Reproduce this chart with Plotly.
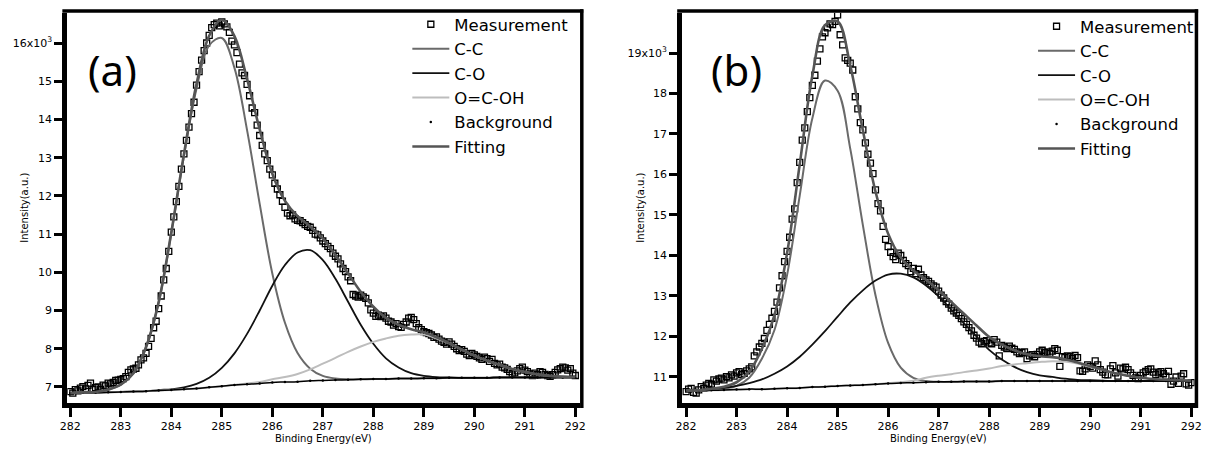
import numpy as np
import plotly.graph_objects as go

# ---------------------------------------------------------------------------
# Binding-energy sampling grids (eV)
# ---------------------------------------------------------------------------
energy_fit = np.linspace(282.0, 292.0, 41)     # component / envelope curves
energy_meas = np.linspace(282.0, 292.0, 201)   # measured spectrum (0.05 eV step)

# ---------------------------------------------------------------------------
# Panel (a) – intensities in units of 10^3 counts
# ---------------------------------------------------------------------------
bg_a = [6.84, 6.85, 6.85, 6.86, 6.87, 6.88, 6.89, 6.91, 6.92, 6.94, 6.96,
        6.99, 7.02, 7.05, 7.07, 7.09, 7.12, 7.13, 7.14, 7.16, 7.17, 7.18,
        7.19, 7.20, 7.21, 7.21, 7.22, 7.22, 7.23, 7.23, 7.24, 7.24, 7.24,
        7.24, 7.25, 7.25, 7.25, 7.25, 7.25, 7.25, 7.25]
cc_a = [6.84, 6.86, 6.87, 6.93, 7.06, 7.36, 8.04, 9.21, 11.02, 13.04, 14.81,
        15.94, 16.13, 15.35, 13.72, 11.79, 9.97, 8.68, 7.89, 7.48, 7.29, 7.22,
        7.20, 7.20, 7.21, 7.21, 7.22, 7.22, 7.23, 7.23, 7.24, 7.24, 7.24,
        7.24, 7.25, 7.25, 7.25, 7.25, 7.25, 7.25, 7.25]
co_a = [6.84, 6.85, 6.85, 6.86, 6.87, 6.88, 6.89, 6.92, 6.94, 6.99, 7.08,
        7.24, 7.50, 7.88, 8.39, 9.00, 9.65, 10.19, 10.52, 10.58, 10.32, 9.83,
        9.23, 8.63, 8.13, 7.75, 7.51, 7.36, 7.29, 7.26, 7.25, 7.24, 7.24,
        7.24, 7.25, 7.25, 7.25, 7.25, 7.25, 7.25, 7.25]
ocoh_a = [6.84, 6.85, 6.85, 6.86, 6.87, 6.88, 6.89, 6.91, 6.92, 6.94, 6.96,
          6.99, 7.02, 7.05, 7.09, 7.13, 7.20, 7.26, 7.34, 7.46, 7.61, 7.76,
          7.92, 8.06, 8.18, 8.27, 8.34, 8.37, 8.37, 8.27, 8.14, 7.98, 7.82,
          7.69, 7.58, 7.47, 7.39, 7.33, 7.29, 7.27, 7.26]
fit_a = [6.84, 6.86, 6.87, 6.93, 7.06, 7.36, 8.04, 9.22, 11.04, 13.09, 14.93,
         16.19, 16.61, 16.18, 15.06, 13.74, 12.58, 11.87, 11.47, 11.20, 10.88,
         10.45, 9.97, 9.49, 9.10, 8.81, 8.63, 8.51, 8.43, 8.30, 8.15, 7.98,
         7.82, 7.69, 7.58, 7.47, 7.39, 7.33, 7.29, 7.27, 7.26]
meas_a = [
    6.88, 6.84, 6.93, 6.90, 6.97, 7.01, 6.95, 7.04, 7.10, 6.93,
    6.98, 7.00, 6.94, 7.05, 7.03, 7.10, 7.08, 7.12, 7.17, 7.18,
    7.20, 7.22, 7.27, 7.38, 7.45, 7.47, 7.49, 7.58, 7.71, 7.76,
    7.88, 8.06, 8.27, 8.55, 8.72, 9.05, 9.38, 9.80, 10.10, 10.55,
    11.05, 11.45, 11.85, 12.25, 12.70, 13.10, 13.45, 13.80, 14.15, 14.45,
    14.90, 15.25, 15.55, 15.80, 16.00, 16.20, 16.40, 16.48, 16.52, 16.45,
    16.55, 16.50, 16.42, 16.28, 16.05, 15.95, 15.75, 15.45, 15.22, 15.15,
    14.92, 14.62, 14.30, 14.18, 13.85, 13.58, 13.32, 13.10, 12.92, 12.70,
    12.55, 12.33, 12.18, 12.03, 11.86, 11.70, 11.55, 11.48, 11.50, 11.40,
    11.36, 11.35, 11.30, 11.25, 11.20, 11.18, 11.10, 11.00, 10.98, 10.90,
    10.82, 10.75, 10.68, 10.62, 10.50, 10.42, 10.35, 10.22, 10.10, 10.02,
    9.88, 9.78, 9.42, 9.38, 9.35, 9.40, 9.36, 9.32, 9.20, 9.02,
    8.93, 8.85, 8.88, 8.84, 8.86, 8.80, 8.72, 8.70, 8.62, 8.66,
    8.58, 8.56, 8.64, 8.70, 8.80, 8.82, 8.76, 8.66, 8.55, 8.50,
    8.45, 8.42, 8.40, 8.36, 8.30, 8.31, 8.25, 8.20, 8.17, 8.12,
    8.18, 8.12, 8.06, 8.00, 7.95, 7.98, 7.93, 7.86, 7.82, 7.88,
    7.84, 7.80, 7.76, 7.72, 7.78, 7.74, 7.67, 7.72, 7.62, 7.58,
    7.60, 7.52, 7.50, 7.46, 7.40, 7.35, 7.37, 7.42, 7.48, 7.52,
    7.44, 7.40, 7.34, 7.30, 7.36, 7.32, 7.40, 7.38, 7.33, 7.30,
    7.28, 7.32, 7.38, 7.45, 7.48, 7.52, 7.50, 7.44, 7.48, 7.36,
    7.30]

# ---------------------------------------------------------------------------
# Panel (b) – intensities in units of 10^3 counts
# ---------------------------------------------------------------------------
bg_b = [10.66, 10.66, 10.67, 10.68, 10.69, 10.70, 10.70, 10.71, 10.72, 10.73,
        10.75, 10.76, 10.78, 10.79, 10.80, 10.82, 10.84, 10.85, 10.86, 10.87,
        10.88, 10.88, 10.89, 10.89, 10.89, 10.90, 10.90, 10.90, 10.90, 10.90,
        10.90, 10.90, 10.90, 10.90, 10.90, 10.90, 10.90, 10.90, 10.90, 10.90,
        10.90]
cc_b = [10.66, 10.66, 10.68, 10.71, 10.78, 10.98, 11.45, 12.16, 13.52, 15.48,
        17.39, 18.32, 18.07, 16.64, 14.75, 13.02, 11.84, 11.23, 10.98, 10.90,
        10.88, 10.88, 10.89, 10.89, 10.89, 10.90, 10.90, 10.90, 10.90, 10.90,
        10.90, 10.90, 10.90, 10.90, 10.90, 10.90, 10.90, 10.90, 10.90, 10.90,
        10.90]
co_b = [10.67, 10.67, 10.70, 10.73, 10.78, 10.85, 10.94, 11.08, 11.26, 11.50,
        11.80, 12.13, 12.49, 12.84, 13.14, 13.38, 13.53, 13.55, 13.46, 13.26,
        12.99, 12.66, 12.33, 12.00, 11.67, 11.43, 11.25, 11.12, 11.04, 11.00,
        10.96, 10.93, 10.92, 10.91, 10.90, 10.90, 10.90, 10.90, 10.90, 10.90,
        10.90]
ocoh_b = [10.66, 10.66, 10.67, 10.68, 10.69, 10.70, 10.70, 10.71, 10.72, 10.73,
          10.75, 10.76, 10.78, 10.79, 10.80, 10.82, 10.85, 10.87, 10.91, 10.98,
          11.03, 11.07, 11.12, 11.16, 11.21, 11.27, 11.31, 11.34, 11.37, 11.39,
          11.38, 11.33, 11.25, 11.17, 11.09, 11.03, 10.98, 10.95, 10.93, 10.92,
          10.91]
fit_b = [10.67, 10.67, 10.71, 10.76, 10.87, 11.13, 11.69, 12.53, 14.06, 16.25,
         18.44, 19.69, 19.78, 18.69, 17.09, 15.58, 14.54, 13.95, 13.63, 13.40,
         13.14, 12.85, 12.56, 12.27, 11.99, 11.80, 11.66, 11.56, 11.51, 11.49,
         11.44, 11.36, 11.27, 11.18, 11.09, 11.03, 10.98, 10.95, 10.93, 10.92,
         10.91]
meas_b = [
    10.64, 10.70, 10.72, 10.62, 10.60, 10.68, 10.76, 10.72, 10.80, 10.84,
    10.82, 10.93, 10.90, 10.95, 10.97, 10.93, 11.01, 10.98, 11.05, 11.02,
    11.10, 11.13, 11.06, 11.09, 11.15, 11.20, 11.25, 11.52, 11.62, 11.74,
    11.83, 11.95, 12.15, 12.30, 12.45, 12.62, 12.85, 13.20, 13.50, 13.85,
    14.10, 14.45, 14.90, 15.15, 15.80, 16.30, 16.85, 17.15, 17.55, 17.90,
    18.20, 18.45, 18.80, 19.10, 19.40, 19.50, 19.62, 19.72, 19.70, 19.78,
    19.94, 19.45, 19.20, 18.88, 18.82, 18.75, 18.58, 17.92, 17.62, 17.28,
    17.10, 16.78, 16.50, 16.28, 16.02, 15.62, 15.28, 15.10, 14.72, 14.40,
    14.22, 14.08, 13.97, 13.90, 14.06, 14.00, 13.88, 13.80, 13.75, 13.60,
    13.68, 13.55, 13.66, 13.52, 13.45, 13.40, 13.36, 13.30, 13.25, 13.22,
    13.12, 13.02, 12.95, 12.86, 12.80, 12.70, 12.63, 12.58, 12.52, 12.44,
    12.36, 12.30, 12.22, 12.14, 12.03, 11.96, 11.86, 11.82, 11.88, 11.90,
    11.84, 11.82, 11.92, 11.86, 11.52, 11.78, 11.74, 11.70, 11.76, 11.71,
    11.68, 11.62, 11.58, 11.60, 11.62, 11.45, 11.52, 11.55, 11.50, 11.56,
    11.62, 11.66, 11.60, 11.62, 11.58, 11.64, 11.70, 11.66, 11.26, 11.50,
    11.48, 11.52, 11.50, 11.46, 11.53, 11.48, 11.15, 11.14, 11.20, 11.30,
    11.26, 11.22, 11.40, 11.30, 11.18, 11.12, 11.06, 11.05, 11.20, 11.28,
    11.10, 11.02, 11.22, 11.20, 11.24, 11.18, 11.10, 11.04, 10.98, 10.96,
    11.04, 11.10, 11.14, 11.18, 11.20, 11.12, 11.06, 11.10, 11.13, 11.08,
    11.02, 11.14, 10.82, 10.90, 11.00, 10.84, 11.02, 11.08, 10.83, 10.80,
    10.86]

x_ticks = [282, 283, 284, 285, 286, 287, 288, 289, 290, 291, 292]
y_ticks_a = [7, 8, 9, 10, 11, 12, 13, 14, 15, 16]
y_ticks_b = [11, 12, 13, 14, 15, 16, 17, 18, 19]
panel_labels = ["(a)", "(b)"]

for arr in (bg_a, cc_a, co_a, ocoh_a, fit_a, bg_b, cc_b, co_b, ocoh_b, fit_b):
    assert len(arr) == len(energy_fit)
assert len(meas_a) == len(energy_meas) and len(meas_b) == len(energy_meas)

# ---------------------------------------------------------------------------
# Styling
# ---------------------------------------------------------------------------
W, H = 1216, 451
FONT = "DejaVu Sans"
C_CC = "#6a6a6a"
C_CO = "#111111"
C_OCOH = "#bdbdbd"
C_FIT = "#555555"


def px_x(p):
    return p / W


def px_y(p):
    return (H - p) / H


fig = go.Figure()


def add_panel(xref, yref, legend, meas, bg, cc, co, ocoh, fit):
    common = dict(xaxis=xref, yaxis=yref, legend=legend)
    fig.add_trace(go.Scatter(
        x=energy_meas, y=meas, mode="markers", name="Measurement",
        marker=dict(symbol="square-open", size=6, color="black",
                    line=dict(width=1.3, color="black")), **common))
    fig.add_trace(go.Scatter(
        x=energy_fit, y=cc, mode="lines", name="C-C", line_shape="spline",
        line=dict(color=C_CC, width=2), **common))
    fig.add_trace(go.Scatter(
        x=energy_fit, y=co, mode="lines", name="C-O", line_shape="spline",
        line=dict(color=C_CO, width=1.8), **common))
    fig.add_trace(go.Scatter(
        x=energy_fit, y=ocoh, mode="lines", name="O=C-OH", line_shape="spline",
        line=dict(color=C_OCOH, width=2), **common))
    # background: continuous line, with its dotted legend entry
    fig.add_trace(go.Scatter(
        x=energy_fit, y=bg, mode="lines", showlegend=False, line_shape="spline",
        line=dict(color="black", width=1.5), **common))
    fig.add_trace(go.Scatter(
        x=energy_fit, y=bg, mode="markers", name="Background",
        marker=dict(symbol="circle", size=2.5, color="black"), **common))
    fig.add_trace(go.Scatter(
        x=energy_fit, y=fit, mode="lines", name="Fitting", line_shape="spline",
        line=dict(color=C_FIT, width=2.6), **common))


add_panel("x", "y", "legend", meas_a, bg_a, cc_a, co_a, ocoh_a, fit_a)
add_panel("x2", "y2", "legend2", meas_b, bg_b, cc_b, co_b, ocoh_b, fit_b)

tickfont = dict(family=FONT, size=11, color="black")
xaxis_common = dict(
    tickmode="array", tickvals=x_ticks, ticktext=[str(t) for t in x_ticks],
    ticks="outside", ticklen=9, tickwidth=3, tickcolor="black",
    showline=True, linewidth=5, linecolor="black", mirror=False,
    showgrid=False, zeroline=False, tickfont=tickfont,
)
yaxis_common = dict(
    ticks="outside", ticklen=8, tickwidth=3, tickcolor="black",
    showline=True, linewidth=5, linecolor="black", mirror=False,
    showgrid=False, zeroline=False, tickfont=tickfont,
)


def ytext(ticks):
    return [str(t) for t in ticks[:-1]] + [f"{ticks[-1]}x10<sup>3</sup>"]


legend_style = dict(xanchor="left", yanchor="top", bgcolor="rgba(0,0,0,0)",
                    borderwidth=0, itemwidth=37,
                    font=dict(family=FONT, size=16.5, color="black"))

fig.update_layout(
    width=W, height=H,
    margin=dict(l=0, r=0, t=0, b=0),
    paper_bgcolor="white", plot_bgcolor="white",
    font=dict(family=FONT, color="black"),
    xaxis=dict(domain=[px_x(61), px_x(580)], range=[281.941, 292.098],
               anchor="y", **xaxis_common),
    yaxis=dict(domain=[px_y(402.5), px_y(12.7)], range=[6.594, 16.793],
               anchor="x", tickmode="array", tickvals=y_ticks_a,
               ticktext=ytext(y_ticks_a), **yaxis_common),
    xaxis2=dict(domain=[px_x(683), px_x(1201.5)], range=[281.922, 292.069],
                anchor="y2", **xaxis_common),
    yaxis2=dict(domain=[px_y(402.7), px_y(12.7)], range=[10.365, 19.995],
                anchor="x2", tickmode="array", tickvals=y_ticks_b,
                ticktext=ytext(y_ticks_b), **yaxis_common),
    legend=dict(x=px_x(405), y=px_y(7), **legend_style),
    legend2=dict(x=px_x(1038), y=px_y(9), **legend_style),
    showlegend=True,
)

# thinner top / right frame lines
frame = dict(type="line", xref="paper", yref="paper",
             line=dict(color="black", width=3.5))
fig.add_shape(x0=px_x(56), x1=px_x(583), y0=px_y(11), y1=px_y(11), **frame)
fig.add_shape(x0=px_x(581.5), x1=px_x(581.5), y0=px_y(408), y1=px_y(9.3), **frame)
fig.add_shape(x0=px_x(678), x1=px_x(1205), y0=px_y(11), y1=px_y(11), **frame)
fig.add_shape(x0=px_x(1203.3), x1=px_x(1203.3), y0=px_y(408), y1=px_y(9.3), **frame)

# panel labels and axis titles
centered = dict(xref="paper", yref="paper", showarrow=False,
                xanchor="center", yanchor="middle")
for label, cx in zip(panel_labels, (107, 738)):
    fig.add_annotation(text=label, x=px_x(cx), y=px_y(70),
                       font=dict(family="Noto Sans", size=42, color="black"),
                       **centered)
for cx in (320, 942):
    fig.add_annotation(text="Binding Energy(eV)", x=px_x(cx), y=px_y(438),
                       font=dict(family=FONT, size=10, color="black"),
                       **centered)
for cx in (17, 640):
    fig.add_annotation(text="Intensity(a.u.)", x=px_x(cx), y=px_y(208),
                       textangle=-90,
                       font=dict(family=FONT, size=10, color="black"),
                       **centered)

fig.write_html("out.html")
